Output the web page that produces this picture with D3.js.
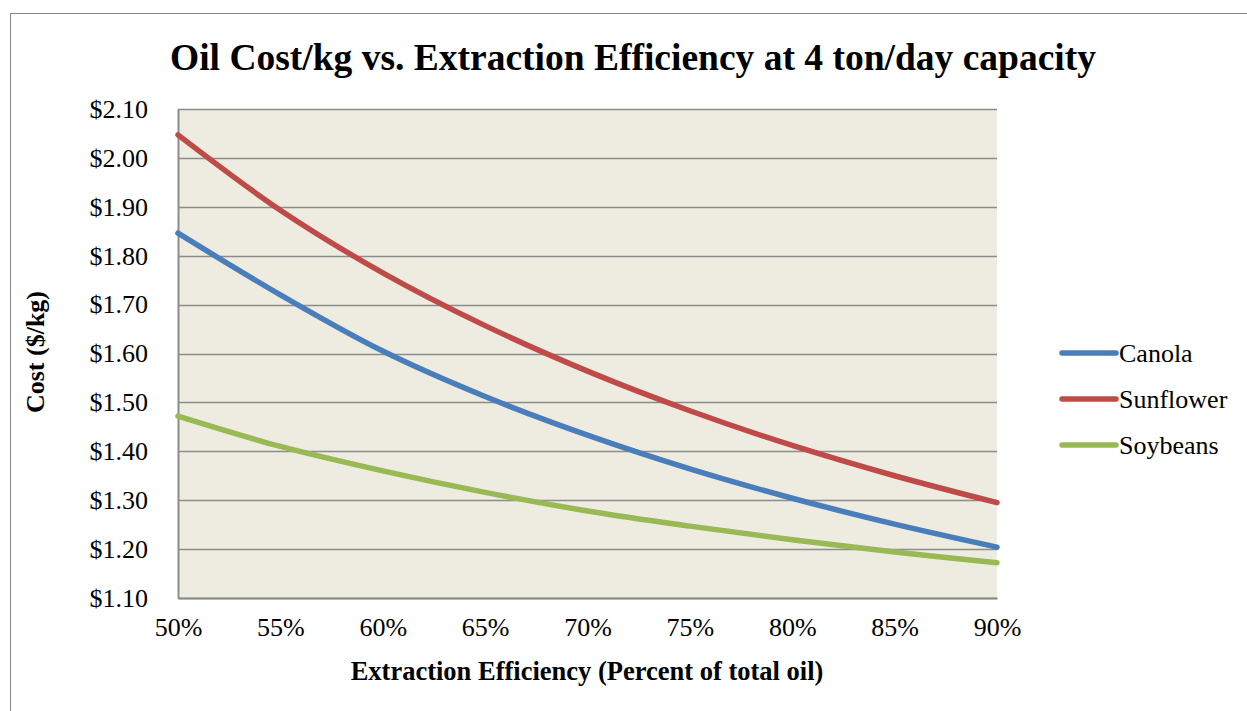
<!DOCTYPE html>
<html><head><meta charset="utf-8">
<script src="https://cdn.jsdelivr.net/npm/d3@7/dist/d3.min.js"></script>
<style>body{margin:0;background:#fff}svg{display:block}</style>
</head><body>
<svg id="chart" width="1247" height="711"></svg>
<script>
const efficiency = [0.50, 0.55, 0.60, 0.65, 0.70, 0.75, 0.80, 0.85, 0.90];
const canola =    [1.846, 1.720, 1.605, 1.512, 1.433, 1.364, 1.304, 1.251, 1.204];
const sunflower = [2.047, 1.893, 1.765, 1.657, 1.564, 1.483, 1.412, 1.350, 1.295];
const soybeans =  [1.472, 1.410, 1.360, 1.316, 1.278, 1.247, 1.219, 1.194, 1.172];
const seriesNames = ["Canola", "Sunflower", "Soybeans"];
const seriesColors = ["#4a7ebb", "#be4b48", "#98b954"];
const yTicks = [1.10, 1.20, 1.30, 1.40, 1.50, 1.60, 1.70, 1.80, 1.90, 2.00, 2.10];
const xTicks = [0.50, 0.55, 0.60, 0.65, 0.70, 0.75, 0.80, 0.85, 0.90];
const title = "Oil Cost/kg vs. Extraction Efficiency at 4 ton/day capacity";
const xTitle = "Extraction Efficiency (Percent of total oil)";
const yTitle = "Cost ($/kg)";

const series = [canola, sunflower, soybeans];
const svg = d3.select("#chart");
const font = "'Liberation Serif','Times New Roman',serif";

svg.append("rect").attr("x", 10.5).attr("y", 13.5).attr("width", 1260).attr("height", 720)
  .attr("fill", "#fff").attr("stroke", "#868686").attr("stroke-width", 1);

const L = 178, R = 997, T = 109, B = 598;
const x = d3.scaleLinear().domain([0.50, 0.90]).range([L, R]);
const y = d3.scaleLinear().domain([1.10, 2.10]).range([B, T]);

svg.append("rect").attr("x", L).attr("y", T).attr("width", R - L).attr("height", B - T).attr("fill", "#eeece1");

// gridlines
svg.append("g").selectAll("line").data(yTicks).join("line")
  .attr("x1", L).attr("x2", R).attr("y1", d => Math.round(y(d)) + 0.5).attr("y2", d => Math.round(y(d)) + 0.5)
  .attr("stroke", "#8c8c8c").attr("stroke-width", 1.5);

// y axis
const yAxis = svg.append("g").attr("transform", `translate(${L},0)`)
  .call(d3.axisLeft(y).tickValues(yTicks).tickSize(0).tickPadding(30).tickFormat(d => "$" + d3.format(".2f")(d)));
yAxis.select(".domain").attr("stroke", "#8c8c8c").attr("stroke-width", 2);
yAxis.selectAll("text").attr("font-family", font).attr("font-size", 26).attr("fill", "#000");

// x axis
const xAxis = svg.append("g").attr("transform", `translate(0,${B})`)
  .call(d3.axisBottom(x).tickValues(xTicks).tickSize(0).tickPadding(20).tickFormat(d3.format(".0%")));
xAxis.select(".domain").attr("stroke", "#8c8c8c").attr("stroke-width", 2);
xAxis.selectAll("text").attr("font-family", font).attr("font-size", 26).attr("fill", "#000");

// lines
const line = d3.line().x((d, i) => x(efficiency[i])).y(d => y(d)).curve(d3.curveCatmullRom);
series.forEach((s, i) => {
  svg.append("path").datum(s).attr("d", line).attr("fill", "none")
    .attr("stroke", seriesColors[i]).attr("stroke-width", 5.5).attr("stroke-linecap", "round");
});

// titles
svg.append("text").attr("x", 633).attr("y", 70).attr("text-anchor", "middle")
  .attr("font-family", font).attr("font-weight", "bold").attr("font-size", 37.5).text(title);
svg.append("text").attr("x", 587).attr("y", 680).attr("text-anchor", "middle")
  .attr("font-family", font).attr("font-weight", "bold").attr("font-size", 26.5).text(xTitle);
svg.append("text").attr("transform", "translate(44,352) rotate(-90)").attr("text-anchor", "middle")
  .attr("font-family", font).attr("font-weight", "bold").attr("font-size", 26).text(yTitle);

// legend
const lg = svg.append("g").selectAll("g").data(seriesNames).join("g")
  .attr("transform", (d, i) => `translate(1060,${353 + i * 46})`);
lg.append("line").attr("x1", 2).attr("x2", 56).attr("stroke", (d, i) => seriesColors[i])
  .attr("stroke-width", 5.5).attr("stroke-linecap", "round");
lg.append("text").attr("x", 59).attr("y", 9).attr("font-family", font).attr("font-size", 26).text(d => d);
</script>
</body></html>
